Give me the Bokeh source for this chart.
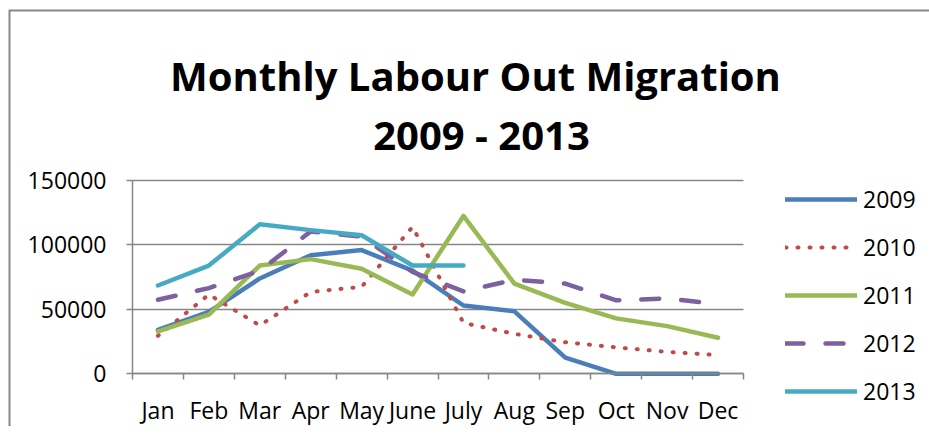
from bokeh.plotting import figure
from bokeh.models import (Range1d, FixedTicker, Legend, LegendItem, Label,
                          BasicTickFormatter)
from bokeh.embed import file_html
from bokeh.resources import INLINE

months = ["Jan", "Feb", "Mar", "Apr", "May", "June", "July", "Aug", "Sep", "Oct", "Nov", "Dec"]
y2009 = [34000, 48000, 74000, 92000, 96000, 80000, 53000, 48500, 12500, 0, 0, 0]
y2010 = [29500, 61500, 37500, 63500, 67500, 114000, 39500, 31000, 24500, 20500, 17000, 14500]
y2011 = [33000, 46000, 84000, 89000, 81500, 61500, 122500, 70000, 55000, 43000, 37000, 28000]
y2012 = [57500, 66500, 80000, 110500, 106500, 79000, 64000, 73000, 70000, 57000, 58500, 54000]
y2013 = [68500, 84000, 116000, 111500, 107500, 84000, 84000]
y_ticks = [0, 50000, 100000, 150000]
title_lines = ["Monthly Labour Out Migration", "2009 - 2013"]

xs = list(range(1, len(months) + 1))
FONT = "Open Sans"
GRID = "#868686"

# canvas / plot-area geometry in pixels (layout only)
CW, CH = 929, 426
AX_L, AX_R = 132.0, 743.0      # x pixel of category axis start / end
AX_B, AX_T = 373.3, 180.0      # y pixel of value 0 / value 150000
X0, X1 = 0.5, len(months) + 0.5
V0, V1 = y_ticks[0], y_ticks[-1]

def ux(px):
    return X0 + (px - AX_L) * (X1 - X0) / (AX_R - AX_L)

def vy(py):
    return V0 + (AX_B - py) * (V1 - V0) / (AX_B - AX_T)

p = figure(width=CW, height=CH, output_backend="svg", toolbar_location=None,
           x_range=Range1d(ux(0), ux(CW)), y_range=Range1d(vy(CH), vy(0)),
           min_border_left=0, min_border_right=0, min_border_top=0,
           min_border_bottom=0, title=None)
p.outline_line_color = None
p.background_fill_color = "white"
p.border_fill_color = "white"

# chart-area border: only its left and top edges fall inside the window
p.line([ux(9), ux(9), ux(CW + 60)], [vy(CH + 60), vy(10), vy(10)],
       line_color="#878787", line_width=2, line_join="miter")

p.xgrid.visible = False
g = p.ygrid[0]
g.ticker = FixedTicker(ticks=y_ticks)
g.grid_line_color = GRID
g.grid_line_width = 1.5
if "cross_bounds" in g.properties():
    g.cross_bounds = (X0, X1)
else:
    g.visible = False
    p.segment(x0=[X0] * len(y_ticks), y0=y_ticks, x1=[X1] * len(y_ticks), y1=y_ticks,
              line_color=GRID, line_width=1.5)

ya = p.yaxis[0]
ya.fixed_location = X0
ya.bounds = (V0, V1)
ya.ticker = FixedTicker(ticks=y_ticks)
ya.formatter = BasicTickFormatter(use_scientific=False)
ya.axis_line_color = GRID
ya.axis_line_width = 1.5
ya.major_tick_line_color = GRID
ya.major_tick_line_width = 1.5
ya.major_tick_out = 6
ya.major_tick_in = 0
ya.minor_tick_line_color = None
ya.major_label_standoff = 20
ya.major_label_text_font = FONT
ya.major_label_text_font_size = "23px"
ya.major_label_text_color = "black"

xa = p.xaxis[0]
xa.fixed_location = V0
xa.bounds = (X0, X1)
xa.ticker = FixedTicker(ticks=xs, minor_ticks=[i + 0.5 for i in range(0, len(months) + 1)])
xa.major_label_overrides = {i: m for i, m in zip(xs, months)}
xa.axis_line_color = GRID
xa.axis_line_width = 1.5
xa.major_tick_line_color = None
xa.major_tick_out = 0
xa.major_tick_in = 0
xa.minor_tick_line_color = GRID
xa.minor_tick_line_width = 1.5
xa.minor_tick_out = 6
xa.minor_tick_in = 0
xa.major_label_standoff = 14
xa.major_label_text_font = FONT
xa.major_label_text_font_size = "23px"
xa.major_label_text_color = "black"

W = 4.5
r09 = p.line(xs, y2009, line_color="#4A7EBB", line_width=W, line_join="round", line_cap="round")
r10 = p.line(xs, y2010, line_color="#BE4B48", line_width=4, line_dash="1 11", line_join="round", line_cap="round")
r11 = p.line(xs, y2011, line_color="#98B954", line_width=W, line_join="round", line_cap="round")
r12 = p.line(xs, y2012, line_color="#7D60A0", line_width=W, line_dash="18 22", line_join="round", line_cap="round")
r13 = p.line(xs[:len(y2013)], y2013, line_color="#46AAC5", line_width=W, line_join="round", line_cap="round")

legend = Legend(items=[LegendItem(label="2009", renderers=[r09]),
                       LegendItem(label="2010", renderers=[r10]),
                       LegendItem(label="2011", renderers=[r11]),
                       LegendItem(label="2012", renderers=[r12]),
                       LegendItem(label="2013", renderers=[r13])],
                location=(785, CH - 415), padding=0, margin=0, spacing=0,
                glyph_width=72, glyph_height=48, label_height=48, label_standoff=6,
                label_text_font=FONT, label_text_font_size="23px", label_text_color="black",
                border_line_color=None, background_fill_alpha=0)
p.add_layout(legend)

for txt, cx, base in zip(title_lines, [475, 481], [75, 134]):
    p.add_layout(Label(x=cx, y=CH - base, x_units="screen", y_units="screen", text=txt,
                       text_align="center", text_baseline="alphabetic",
                       text_font=FONT, text_font_style="bold", text_font_size="40px",
                       text_color="black"))

open("out.html", "w").write(file_html(p, INLINE))
